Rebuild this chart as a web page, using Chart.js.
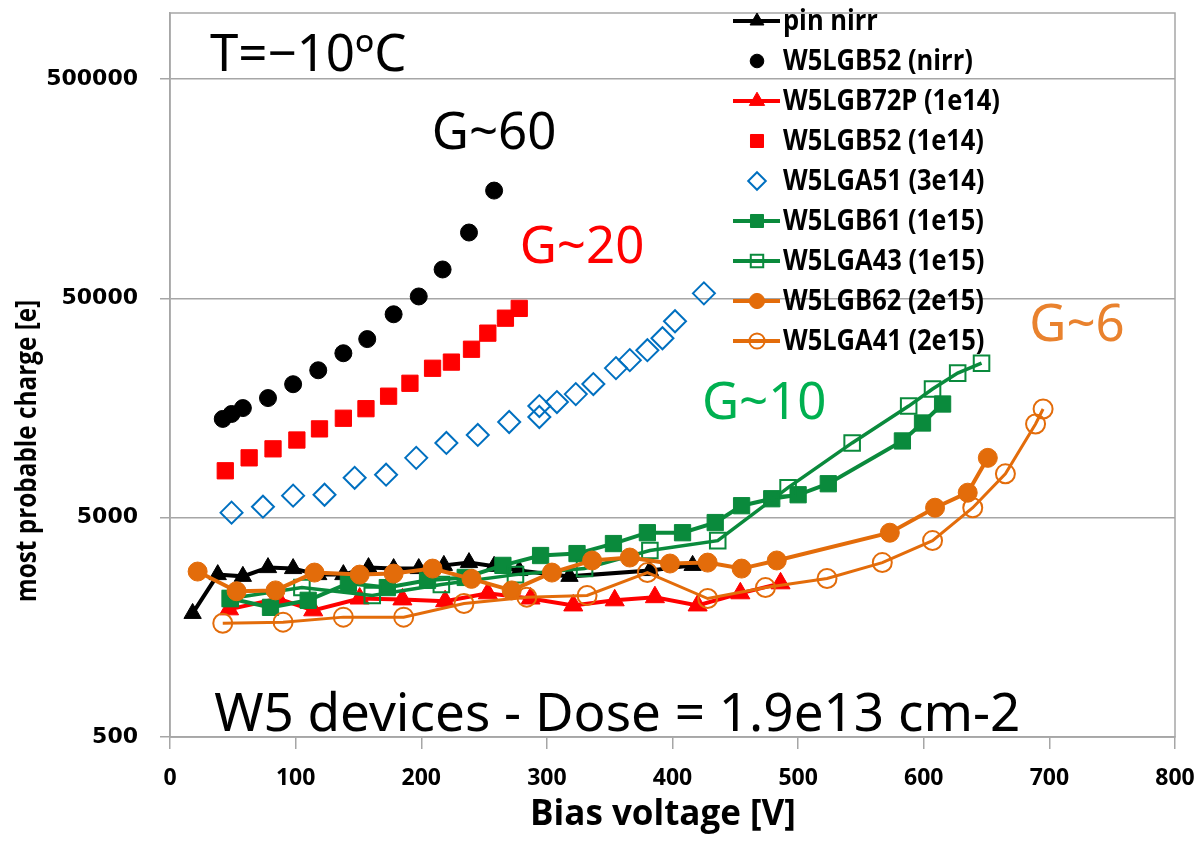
<!DOCTYPE html>
<html>
<head>
<meta charset="utf-8">
<script src="https://cdn.jsdelivr.net/npm/chart.js@4.4.1/dist/chart.umd.min.js"></script>
<style>
  html, body { margin: 0; padding: 0; background: #fff; }
  #chart { display: block; }
</style>
</head>
<body>
<canvas id="chart" width="1201" height="850"></canvas>
<script>
// axis ticks
const xTicks = [0, 100, 200, 300, 400, 500, 600, 700, 800];
const yTicks = [500, 5000, 50000, 500000];

// series names (legend order)
const seriesNames = ['pin nirr', 'W5LGB52 (nirr)', 'W5LGB72P (1e14)', 'W5LGB52 (1e14)', 'W5LGA51 (3e14)',
  'W5LGB61 (1e15)', 'W5LGA43 (1e15)', 'W5LGB62 (2e15)', 'W5LGA41 (2e15)'];

// bias voltage [V] / most probable charge [e]
const pinNirrV = [18, 38, 58, 78, 98, 118, 138, 158, 178, 198, 218, 238, 258, 278, 318, 382, 416];
const pinNirrQ = [1830, 2750, 2700, 2960, 2930, 2750, 2750, 2960, 2930, 2930, 3030, 3120, 3000, 2870, 2700, 2870, 3030];

const b52nirrV = [42, 49, 58, 78, 98, 118, 138, 157, 178, 198, 217, 238, 258];
const b52nirrQ = [14100, 14850, 15800, 17550, 20300, 23500, 28100, 32600, 42300, 51000, 67700, 99800, 155000];

const b72pV = [47, 86, 114, 151, 185, 219, 253, 287, 321, 354, 386, 420, 454, 486];
const b72pQ = [1910, 2140, 1890, 2140, 2120, 2080, 2260, 2140, 1990, 2100, 2170, 1990, 2260, 2510];

const b52e14V = [44, 63, 82, 101, 119, 138, 156, 174, 191, 209, 224, 240, 253, 267, 278];
const b52e14Q = [8180, 9370, 10300, 11300, 12700, 14200, 15700, 17900, 20500, 24000, 25600, 29300, 34700, 40600, 45000];

const a51V = [49, 74, 98, 123, 147, 172, 196, 220, 245, 270, 294, 294, 308, 323, 337, 355, 366, 380, 392, 402, 425];
const a51Q = [5270, 5610, 6300, 6360, 7600, 7850, 9370, 10960, 11920, 13650, 14390, 16140, 16830, 18300, 20330, 24040, 26130, 29010, 32880, 39310, 52700];

const b61V = [48, 80, 110, 142, 173, 205, 235, 265, 295, 324, 353, 380, 408, 434, 455, 479, 500, 524, 583, 599, 615];
const b61Q = [2140, 1950, 2100, 2510, 2400, 2590, 2670, 3030, 3360, 3430, 3810, 4270, 4270, 4750, 5670, 6100, 6360, 7140, 11190, 13510, 16490];

const a43V = [48, 105, 161, 216, 275, 330, 382, 436, 492, 543, 588, 607, 627, 646];
const a43Q = [2140, 2400, 2210, 2480, 2750, 2930, 3540, 3930, 6850, 10960, 16140, 19290, 22800, 25320];

const b62V = [22, 53, 84, 115, 151, 178, 209, 240, 272, 304, 336, 366, 398, 428, 455, 483, 573, 609, 635, 651];
const b62Q = [2840, 2310, 2330, 2810, 2750, 2780, 2930, 2630, 2330, 2810, 3190, 3290, 3090, 3120, 2930, 3190, 4270, 5550, 6500, 9370];

const a41V = [42, 90, 138, 186, 234, 284, 332, 380, 428, 474, 523, 567, 607, 639, 665, 689, 695];
const a41Q = [1650, 1670, 1760, 1760, 2030, 2170, 2210, 2810, 2140, 2400, 2640, 3120, 3930, 5550, 7920, 13370, 15650];

// text notes placed in data units
const noteTexts = ['T=\u221210\u00BAC', 'G~60', 'G~20', 'G~10', 'G~6', 'W5 devices - Dose = 1.9e13 cm-2'];
const noteV = [110, 258, 328, 473, 722, 356];
const noteQ = [543000, 240000, 72100, 14100, 31870, 531];
const noteColors = ['#000000', '#000000', '#FF0000', '#00B050', '#E9822E', '#000000'];

const BLACK = '#000000', RED = '#FF0000', BLUE = '#0070C0', GREEN = '#0A8A3C', ORANGE = '#E36C0A';
const GRID = '#A6A6A6';
const BOLD_FAMILY = '"Open Sans", sans-serif';

const pts = (xs, ys) => xs.map((x, i) => ({ x: x, y: ys[i] }));

const datasets = [
  { data: pts(pinNirrV, pinNirrQ), showLine: true, borderColor: BLACK, borderWidth: 4,
    pointStyle: 'triangle', pointRadius: 10, pointBackgroundColor: BLACK, pointBorderColor: BLACK, pointBorderWidth: 1 },
  { data: pts(b52nirrV, b52nirrQ), showLine: false, borderColor: BLACK,
    pointStyle: 'circle', pointRadius: 8.5, pointBackgroundColor: BLACK, pointBorderColor: BLACK, pointBorderWidth: 1 },
  { data: pts(b72pV, b72pQ), showLine: true, borderColor: RED, borderWidth: 4,
    pointStyle: 'triangle', pointRadius: 11, pointBackgroundColor: RED, pointBorderColor: RED, pointBorderWidth: 1 },
  { data: pts(b52e14V, b52e14Q), showLine: false, borderColor: RED,
    pointStyle: 'rect', pointRadius: 11.5, pointBackgroundColor: RED, pointBorderColor: RED, pointBorderWidth: 1 },
  { data: pts(a51V, a51Q), showLine: false, borderColor: BLUE,
    pointStyle: 'rectRot', pointRadius: 11, pointBackgroundColor: 'rgba(0,0,0,0)', pointBorderColor: BLUE, pointBorderWidth: 2 },
  { data: pts(b61V, b61Q), showLine: true, borderColor: GREEN, borderWidth: 4,
    pointStyle: 'rect', pointRadius: 11.5, pointBackgroundColor: GREEN, pointBorderColor: GREEN, pointBorderWidth: 1 },
  { data: pts(a43V, a43Q), showLine: true, borderColor: GREEN, borderWidth: 3.5,
    pointStyle: 'rect', pointRadius: 11, pointBackgroundColor: 'rgba(0,0,0,0)', pointBorderColor: GREEN, pointBorderWidth: 2 },
  { data: pts(b62V, b62Q), showLine: true, borderColor: ORANGE, borderWidth: 4,
    pointStyle: 'circle', pointRadius: 9.5, pointBackgroundColor: ORANGE, pointBorderColor: ORANGE, pointBorderWidth: 1 },
  { data: pts(a41V, a41Q), showLine: true, borderColor: ORANGE, borderWidth: 3,
    pointStyle: 'circle', pointRadius: 9.5, pointBackgroundColor: 'rgba(0,0,0,0)', pointBorderColor: ORANGE, pointBorderWidth: 2 }
];
datasets.forEach((d, i) => {
  d.label = seriesNames[i];
  d.order = datasets.length - i; // later series drawn on top, like the original
  d.fill = false;
  d.tension = 0;
  d.pointHoverRadius = d.pointRadius;
});

function drawMarker(ctx, style, x, y, r, fill, stroke, bw) {
  ctx.save();
  ctx.beginPath();
  if (style === 'circle') {
    ctx.arc(x, y, r, 0, Math.PI * 2);
  } else if (style === 'triangle') {
    for (let k = 0; k < 3; k++) {
      const a = k * 2 * Math.PI / 3;
      const px = x + Math.sin(a) * r, py = y - Math.cos(a) * r;
      k ? ctx.lineTo(px, py) : ctx.moveTo(px, py);
    }
    ctx.closePath();
  } else if (style === 'rect') {
    const s = r * Math.SQRT1_2;
    ctx.rect(x - s, y - s, 2 * s, 2 * s);
  } else if (style === 'rectRot') {
    ctx.moveTo(x, y - r); ctx.lineTo(x + r, y); ctx.lineTo(x, y + r); ctx.lineTo(x - r, y); ctx.closePath();
  }
  ctx.fillStyle = fill;
  ctx.fill();
  ctx.lineWidth = bw;
  ctx.strokeStyle = stroke;
  ctx.stroke();
  ctx.restore();
}

// condensed-looking text: squeeze horizontally around the anchor
function squeezedText(ctx, text, x, y, sx) {
  ctx.save();
  ctx.translate(x, y);
  ctx.scale(sx, 1);
  ctx.fillText(text, 0, 0);
  ctx.restore();
}

const decor = {
  id: 'decor',
  beforeDraw(chart) {
    const ctx = chart.ctx;
    ctx.save();
    ctx.fillStyle = '#fff';
    ctx.fillRect(0, 0, chart.width, chart.height);
    ctx.restore();
  },
  beforeDatasetsDraw(chart) {
    const { ctx, chartArea: a } = chart;
    ctx.save();
    ctx.strokeStyle = GRID;
    ctx.lineWidth = 1.5;
    ctx.strokeRect(a.left, a.top, a.right - a.left, a.bottom - a.top);
    ctx.restore();
  },
  afterDraw(chart) {
    const { ctx, scales } = chart;
    ctx.save();

    // axis titles
    ctx.fillStyle = '#000';
    ctx.textAlign = 'center';
    ctx.textBaseline = 'middle';
    ctx.font = 'bold 35px ' + BOLD_FAMILY;
    ctx.fillText('Bias voltage [V]', 663, 815);
    ctx.save();
    ctx.translate(28, 451);
    ctx.rotate(-Math.PI / 2);
    ctx.font = 'bold 29px ' + BOLD_FAMILY;
    squeezedText(ctx, 'most probable charge [e]', 0, 0, 0.84);
    ctx.restore();

    // notes
    ctx.textBaseline = 'alphabetic';
    noteTexts.forEach((t, i) => {
      ctx.font = (i === 5 ? '53px' : '51px') + ' "Noto Sans", sans-serif';
      ctx.fillStyle = noteColors[i];
      ctx.fillText(t, scales.x.getPixelForValue(noteV[i]), scales.y.getPixelForValue(noteQ[i]));
    });

    // legend
    ctx.font = 'bold 28px ' + BOLD_FAMILY;
    ctx.textAlign = 'left';
    ctx.textBaseline = 'middle';
    chart.data.datasets.forEach((d, i) => {
      const y = 21 + 40 * i;
      if (d.showLine) {
        ctx.beginPath();
        ctx.moveTo(733, y);
        ctx.lineTo(780, y);
        ctx.strokeStyle = d.borderColor;
        ctx.lineWidth = 4;
        ctx.stroke();
      }
      drawMarker(ctx, d.pointStyle, 757, y, d.pointRadius * 0.8, d.pointBackgroundColor, d.pointBorderColor, d.pointBorderWidth);
      ctx.fillStyle = '#000';
      squeezedText(ctx, d.label, 783, y + 1, 0.91);
    });
    ctx.restore();
  }
};

new Chart(document.getElementById('chart'), {
  type: 'scatter',
  data: { datasets: datasets },
  plugins: [decor],
  options: {
    responsive: false,
    animation: false,
    layout: { padding: { top: 9, right: 26, left: 0, bottom: 0 } },
    plugins: { legend: { display: false }, tooltip: { enabled: false } },
    scales: {
      x: {
        type: 'linear', min: 0, max: 800,
        afterBuildTicks: s => { s.ticks = xTicks.map(v => ({ value: v })); },
        afterFit: s => { s.height = 113; s.paddingLeft = 0; s.paddingRight = 0; },
        grid: { drawOnChartArea: false, drawTicks: true, tickLength: 12, color: GRID, lineWidth: 1.5 },
        border: { display: true, color: GRID, width: 1.5 },
        ticks: { color: '#000', padding: 16, maxRotation: 0,
          font: { family: BOLD_FAMILY, size: 23, weight: 'bold' } }
      },
      y: {
        type: 'logarithmic', min: 500, max: 1000000,
        afterBuildTicks: s => { s.ticks = yTicks.map(v => ({ value: v })); },
        afterFit: s => { s.width = 170; s.paddingTop = 0; s.paddingBottom = 0; },
        grid: { drawOnChartArea: true, drawTicks: true, tickLength: 10, color: GRID, lineWidth: 1.5 },
        border: { display: true, color: GRID, width: 1.5 },
        ticks: { color: '#000', padding: 22, callback: v => String(v),
          font: { family: '"DejaVu Sans", sans-serif', size: 22, weight: 'bold' } }
      }
    }
  }
});
</script>
</body>
</html>
